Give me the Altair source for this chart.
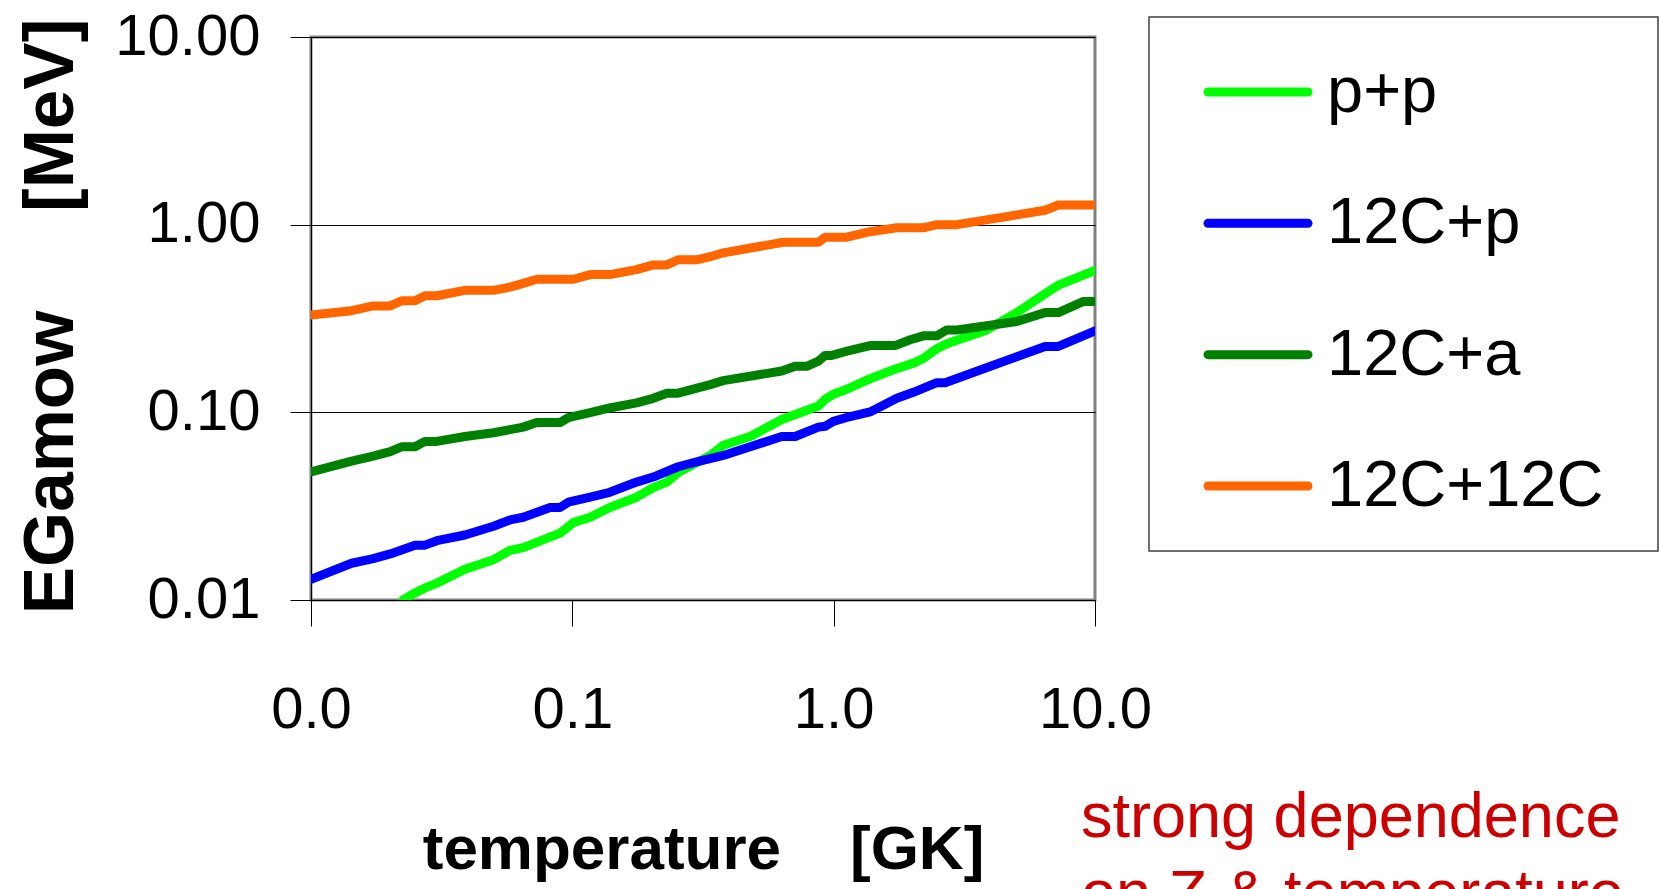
import altair as alt
import pandas as pd

series_names = ["p+p", "12C+p", "12C+a", "12C+12C"]
series_colors = ["#00FF00", "#0000FF", "#008000", "#FF6600"]

t_pp = [0.0225, 0.025, 0.0273, 0.0303, 0.0388, 0.0499, 0.0577, 0.0649, 0.0897, 0.101,
        0.117, 0.139, 0.176, 0.204, 0.230, 0.254, 0.337, 0.378, 0.479, 0.633,
        0.874, 0.927, 0.997, 1.122, 1.378, 1.692, 2.018, 2.204, 2.481, 2.709,
        3.854, 5.02, 6.44, 7.24, 10.0]
e_pp = [0.0100, 0.0109, 0.0116, 0.0123, 0.0146, 0.0164, 0.0184, 0.0190, 0.0227, 0.0259,
        0.0276, 0.0311, 0.0353, 0.0397, 0.0425, 0.0478, 0.0589, 0.0668, 0.0743, 0.0916,
        0.1081, 0.1172, 0.1248, 0.1327, 0.1511, 0.1686, 0.1829, 0.1937, 0.2182, 0.2322,
        0.2747, 0.340, 0.428, 0.476, 0.571]

t_cp = [0.01, 0.0143, 0.0173, 0.0201, 0.025, 0.0273, 0.0303, 0.0388, 0.0499, 0.0577,
        0.0649, 0.0822, 0.0897, 0.0965, 0.117, 0.139, 0.176, 0.204, 0.254, 0.299,
        0.378, 0.479, 0.633, 0.712, 0.874, 0.927, 0.997, 1.156, 1.378, 1.744,
        2.018, 2.481, 2.669, 6.44, 7.24, 10.0]
e_cp = [0.0129, 0.0157, 0.0166, 0.0176, 0.0196, 0.0196, 0.0207, 0.0222, 0.0247, 0.0267,
        0.0276, 0.0311, 0.0311, 0.0332, 0.0353, 0.0375, 0.0425, 0.0452, 0.0513, 0.0544,
        0.0589, 0.0655, 0.0743, 0.0743, 0.0834, 0.0843, 0.0895, 0.0950, 0.1005, 0.1188,
        0.1278, 0.1439, 0.1439, 0.2245, 0.2245, 0.2719]

t_ca = [0.01, 0.0143, 0.0173, 0.0201, 0.0222, 0.025, 0.0273, 0.0303, 0.0388, 0.0499,
        0.0577, 0.0649, 0.0731, 0.0897, 0.0965, 0.117, 0.139, 0.176, 0.204, 0.230,
        0.254, 0.337, 0.378, 0.633, 0.712, 0.789, 0.874, 0.927, 0.983, 1.156,
        1.378, 1.718, 1.961, 2.204, 2.481, 2.709, 2.959, 5.02, 6.44, 7.24,
        9.03, 10.0]
e_ca = [0.0482, 0.0549, 0.0584, 0.0617, 0.0655, 0.0655, 0.0700, 0.0700, 0.0743, 0.0778,
        0.0809, 0.0834, 0.0882, 0.0882, 0.0938, 0.0996, 0.1055, 0.1122, 0.1188, 0.1265,
        0.1265, 0.1405, 0.1475, 0.1661, 0.1759, 0.1759, 0.1873, 0.2011, 0.2011, 0.2141,
        0.2268, 0.2268, 0.2435, 0.2557, 0.2557, 0.2747, 0.2747, 0.305, 0.340, 0.340,
        0.390, 0.390]

t_cc = [0.01, 0.0143, 0.0173, 0.0201, 0.0222, 0.025, 0.0273, 0.0303, 0.0388, 0.0499,
        0.0577, 0.0649, 0.0731, 0.101, 0.117, 0.139, 0.176, 0.204, 0.230, 0.254,
        0.299, 0.337, 0.378, 0.642, 0.874, 0.927, 1.122, 1.378, 1.744, 2.204,
        2.481, 2.959, 6.44, 7.24, 10.0]
e_cc = [0.330, 0.348, 0.369, 0.369, 0.393, 0.393, 0.418, 0.418, 0.447, 0.447,
        0.465, 0.487, 0.512, 0.512, 0.542, 0.542, 0.576, 0.610, 0.610, 0.650,
        0.650, 0.675, 0.708, 0.806, 0.806, 0.857, 0.857, 0.917, 0.962, 0.962,
        1.00, 1.00, 1.193, 1.272, 1.272]

x_ticks = [0.01, 0.1, 1, 10]
y_ticks = [0.01, 0.1, 1, 10]
x_title = "temperature\u00a0\u00a0\u00a0\u00a0[GK]"
y_title = "EGamow\u00a0\u00a0\u00a0\u00a0\u00a0[MeV]"
note_lines = ["strong dependence", "on Z & temperature"]

rows = []
for name, ts, es in zip(series_names, [t_pp, t_cp, t_ca, t_cc], [e_pp, e_cp, e_ca, e_cc]):
    for t, e in zip(ts, es):
        rows.append({"series": name, "T": t, "E": e})
df = pd.DataFrame(rows)
legend_df = pd.DataFrame({"series": series_names})

REG = "Liberation Sans, Arial, sans-serif"
color_scale = alt.Scale(domain=series_names, range=series_colors)

lines = alt.Chart(df).mark_line(
    strokeWidth=9, strokeCap="round", strokeJoin="round", clip=True
).encode(
    x=alt.X("T:Q",
            scale=alt.Scale(type="log", domain=[0.01, 10], nice=False),
            axis=alt.Axis(values=x_ticks, format=".1f", title=x_title, grid=False,
                          tickSize=26, labelPadding=55,
                          titleFont=REG, titleFontWeight="bold", titleFontSize=62,
                          titleX=392, titleY=268, titleAlign="center",
                          titleBaseline="alphabetic")),
    y=alt.Y("E:Q",
            scale=alt.Scale(type="log", domain=[0.01, 10], nice=False),
            axis=alt.Axis(values=y_ticks, format=".2f", title=y_title, grid=True,
                          tickSize=21, labelPadding=30,
                          titleFont=REG, titleFontWeight="bold", titleFontSize=71,
                          titleAngle=270, titleX=-239, titleY=279, titleAlign="center",
                          titleBaseline="alphabetic")),
    color=alt.Color("series:N", scale=color_scale, legend=None),
)

# legend drawn from the series list
legend_y = alt.Y("series:N",
                 scale=alt.Scale(type="point", domain=series_names, range=[55, 449], padding=0),
                 axis=None)

legend_box = alt.Chart(alt.Data(values=[{"k": 1}])).mark_rect(
    fill="white", stroke="#404040", strokeWidth=1.5, clip=False
).encode(x=alt.value(838), x2=alt.value(1347), y=alt.value(-20), y2=alt.value(514))

legend_sym = alt.Chart(legend_df).mark_rule(
    strokeWidth=9, strokeCap="round", clip=False
).encode(
    x=alt.value(897), x2=alt.value(997), y=legend_y,
    color=alt.Color("series:N", scale=color_scale, legend=None),
)

legend_lab = alt.Chart(legend_df).mark_text(
    align="left", baseline="middle", font=REG, fontSize=65, color="black", clip=False
).encode(x=alt.value(1016), y=legend_y, text="series:N")

note = alt.Chart(alt.Data(values=[{"k": 1}])).mark_text(
    text=note_lines, align="left", baseline="alphabetic", font=REG, fontSize=63,
    color="#CC0000", lineHeight=77, clip=False
).encode(x=alt.value(770), y=alt.value(800))

chart = alt.layer(lines, legend_box, legend_sym, legend_lab, note).resolve_scale(
    y="independent"
).properties(
    width=784, height=563,
    padding={"left": 311, "top": 37, "right": 565, "bottom": 289},
    autosize=alt.AutoSizeParams(type="none"),
    background="white",
).configure_view(
    stroke="#808080", strokeWidth=3
).configure_axis(
    labelFont=REG, labelFontSize=58, labelColor="black",
    tickColor="black", tickWidth=1, domainColor="black", domainWidth=1,
    gridColor="black", gridWidth=1, titleColor="black", labelFlush=False,
    labelOverlap=False
)

chart.save("out.html", embed_options={"renderer": "svg", "actions": False})
